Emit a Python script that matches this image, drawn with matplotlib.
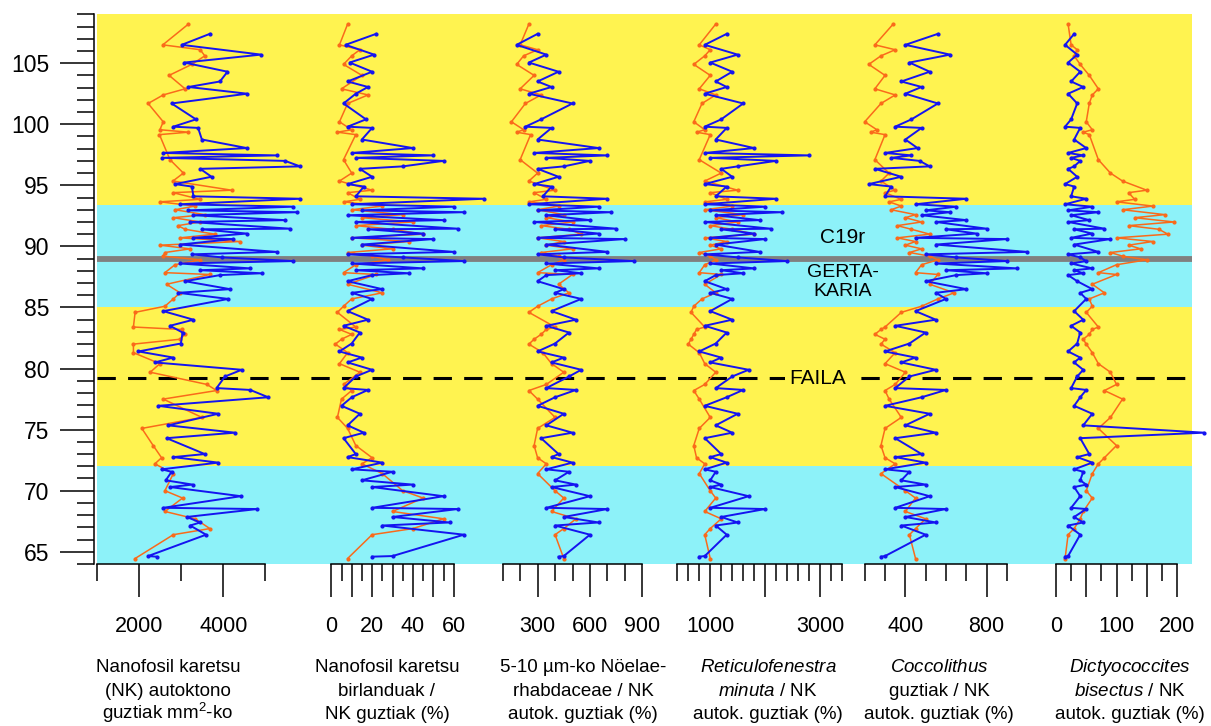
import numpy as np
import matplotlib.pyplot as plt

plt.rcParams['font.family'] = 'Liberation Sans'
plt.rcParams['mathtext.fontset'] = 'custom'
plt.rcParams['mathtext.rm'] = 'Liberation Sans'
plt.rcParams['mathtext.it'] = 'Liberation Sans:italic'

# sample depths (m), shared by every panel
depth_blue = [107.4, 106.5, 105.7, 105.05, 104.3, 103.5, 103.05, 102.5, 101.7, 100.4,
              99.8, 99.7, 98.75, 98.05, 97.65, 97.45, 97.25, 97.0, 96.55, 96.35,
              95.7, 95.1, 94.9, 94.1, 93.9, 93.45, 93.25, 92.95, 92.8, 92.55,
              92.15, 92.0, 91.45, 91.4, 91.05, 90.7, 90.6, 90.15, 89.55, 89.35,
              89.1, 88.8, 88.6, 88.2, 88.05, 87.8, 87.65, 87.15, 86.5, 86.2,
              85.7, 84.7, 84.0, 83.5, 82.95, 82.05, 81.4, 80.9, 80.5, 79.9,
              79.35, 78.4, 78.25, 77.65, 76.95, 76.3, 75.35, 74.75, 74.3, 73.0,
              72.75, 72.3, 71.75, 71.55, 70.85, 70.5, 70.3, 69.55, 68.6, 68.5,
              67.85, 67.4, 67.15, 66.4, 64.65, 64.6]
depth_orange = [108.2, 106.5, 106.1, 105.6, 104.9, 104.0, 102.9, 102.4, 101.7, 100.2,
                99.55, 99.35, 99.15, 97.1, 96.0, 95.35, 94.6, 94.4, 93.85, 93.65,
                93.3, 93.0, 92.6, 92.35, 92.0, 91.7, 91.4, 91.0, 90.7, 90.4,
                90.1, 89.8, 89.5, 89.2, 88.9, 88.5, 87.85, 87.7, 86.9, 86.2,
                85.7, 85.1, 84.6, 83.4, 83.2, 82.8, 82.4, 82.0, 81.3, 80.4,
                79.7, 78.7, 78.2, 77.5, 76.0, 75.1, 73.7, 72.7, 72.2, 71.4,
                70.0, 69.4, 68.3, 67.7, 66.9, 66.4, 64.45]

# 1: NK autoktono / mm2
nk_blue = [3680, 3010, 4900, 3070, 4100, 3920, 3170, 4570, 2770, 3350, 2810, 3400, 3490, 4560, 2560, 5270, 2550, 5470, 5830, 3450, 3720, 2850, 3250, 3290,
           5830, 2970, 5660, 3160, 5760, 3290, 5470, 3210, 5590, 3490, 4560, 3290, 4230, 2970, 5270, 3250, 3960,
           5670, 2970, 4640, 3450, 4910, 3920, 3090, 4160, 2930, 4120,
           2570, 3290, 2730, 3030, 2990, 1980, 2810, 2370, 4440, 4040, 3840, 4640, 5070, 2450, 3880, 2690, 4280, 2650, 3560, 2810, 3880, 2530, 2770, 2630, 3270, 2730,
           4420, 2570, 4810, 3130, 3450, 3210, 3590, 2210, 2410]
nk_orange = [3170, 2560, 3450, 3560, 3250, 2710, 3090, 2570, 2210, 2570, 2490, 3170, 2480, 2730, 3050, 2800, 4200, 2800, 3450, 2490,
             3330, 2850, 3560, 2810, 3450, 2920, 3090, 3800, 2970, 4400, 2490, 3210, 2610, 2570, 3450, 2850,
             2610, 3680, 2650, 2970, 2810, 2610, 1900, 1860, 3010, 3090, 2970, 1860, 1860, 2490, 2260, 3610, 3840, 2570, 3490, 2060,
             2330, 2530, 2370, 2810, 2610, 3030, 2610, 3330, 3680, 2810, 1900]

# 2: birlanduak / NK guztiak (%)
rew_blue = [22, 7, 21, 9, 20, 8, 18, 12, 6, 17, 8, 20, 15, 40, 10, 50, 12, 55, 35, 14, 20, 8, 16, 12,
            75, 10, 60, 15, 65, 8, 55, 12, 62, 18, 45, 10, 50, 15, 60, 8, 35,
            65, 10, 45, 12, 38, 20, 8, 25, 10, 20,
            8, 18, 6, 14, 10, 4, 15, 8, 20, 12, 6, 18, 10, 5, 14, 8, 16, 6, 12, 8, 25, 10, 30, 15, 40, 20,
            55, 20, 62, 30, 58, 25, 65, 30, 20]
rew_orange = [8, 4, 14, 10, 6, 15, 5, 18, 8, 4, 10, 3, 12, 6, 10, 4, 20, 8, 14, 6,
              25, 10, 35, 15, 40, 12, 30, 45, 10, 38, 15, 30, 8, 20, 28, 12,
              6, 22, 8, 25, 10, 6, 3, 12, 4, 10, 5, 2, 8, 4, 14, 6, 10, 5, 3, 8, 12, 20, 15, 25, 35, 45, 30, 55, 40, 20, 8]

# 3: 5-10 um Noelaerhabdaceae (%)
noe_blue = [300, 180, 350, 250, 420, 300, 380, 250, 500, 320, 230, 380, 300, 650, 280, 700, 350, 600, 450, 300, 420, 280, 380, 330,
            700, 250, 650, 300, 720, 350, 600, 280, 750, 400, 650, 300, 800, 350, 700, 300, 450,
            850, 350, 650, 400, 550, 350, 300, 450, 400, 550,
            380, 520, 350, 480, 400, 300, 450, 380, 550, 480, 350, 520, 400, 300, 450, 350, 500, 320, 420, 380, 500, 350, 480, 400, 520, 380,
            600, 350, 700, 450, 650, 400, 600, 450, 420]
noe_orange = [250, 200, 300, 220, 180, 280, 200, 320, 230, 150, 220, 180, 260, 200, 300, 250, 400, 280, 350, 250,
              420, 300, 450, 350, 500, 320, 480, 550, 300, 450, 350, 500, 320, 420, 450, 380,
              300, 500, 420, 480, 380, 300, 250, 400, 350, 320, 280, 250, 330, 380, 450, 350, 250, 300, 400, 300,
              280, 300, 350, 300, 400, 450, 380, 520, 450, 400, 450]

# 4: Reticulofenestra minuta (%)
ret_blue = [1300, 900, 1500, 1000, 1400, 1100, 1300, 900, 1600, 1200, 900, 1300, 1100, 1800, 900, 2800, 1000, 2200, 1500, 1200, 1400, 900, 1300, 1100,
            2200, 900, 2000, 1000, 2300, 1100, 1900, 900, 2100, 1200, 1800, 1000, 2000, 1100, 1900, 900, 1500,
            2400, 1000, 1800, 1200, 1600, 1100, 900, 1300, 1000, 1400,
            1000, 1400, 900, 1300, 1100, 800, 1200, 1000, 1700, 1400, 1100, 1600, 1300, 900, 1500, 1100, 1400, 900, 1200, 1000, 1300, 900, 1100, 1000, 1200, 1000,
            1700, 1000, 2000, 1200, 1500, 1100, 1300, 900, 800]
ret_orange = [1100, 800, 1000, 900, 700, 1000, 800, 1100, 850, 700, 900, 750, 1000, 800, 1200, 900, 1500, 1000, 1300, 900,
              1400, 900, 1600, 1100, 1500, 1000, 1400, 1800, 900, 1300, 1000, 1200, 800, 1000, 1100, 900,
              800, 1200, 900, 1100, 850, 700, 650, 900, 750, 700, 650, 600, 800, 900, 1100, 900, 700, 800, 1000, 800,
              700, 750, 900, 800, 1000, 1100, 900, 1200, 1000, 900, 1000]

# 5: Coccolithus (%)
coc_blue = [560, 400, 620, 420, 520, 380, 480, 400, 560, 430, 350, 480, 400, 460, 300, 430, 330, 470, 520, 250, 380, 220, 330, 300,
            700, 450, 650, 500, 620, 480, 700, 550, 800, 600, 750, 450, 900, 550, 1000, 500, 650,
            900, 550, 950, 600, 800, 650, 500, 700, 550, 600,
            450, 550, 350, 500, 420, 300, 450, 380, 550, 420, 350, 600, 480, 300, 520, 400, 550, 350, 480, 350, 500, 300, 420, 380, 500, 350,
            520, 350, 600, 400, 550, 380, 500, 300, 280]
coc_orange = [340, 250, 350, 280, 220, 300, 250, 350, 280, 200, 260, 230, 300, 250, 320, 280, 350, 300, 380, 320,
              380, 330, 450, 400, 480, 360, 430, 520, 360, 450, 400, 480, 420, 520, 560, 480,
              450, 560, 520, 640, 560, 480, 380, 300, 280, 250, 300, 280, 350, 300, 400, 350, 300, 320, 380, 300,
              280, 300, 350, 280, 400, 450, 400, 500, 450, 420, 450]

# 6: Dictyococcites bisectus (%)
dic_blue = [30, 15, 35, 20, 40, 25, 45, 20, 35, 25, 15, 40, 30, 50, 20, 45, 25, 40, 30, 20, 35, 15, 30, 25,
            50, 15, 60, 20, 70, 25, 55, 20, 80, 30, 60, 25, 90, 30, 70, 20, 40,
            50, 25, 60, 30, 45, 20, 35, 60, 40, 50,
            30, 45, 25, 40, 35, 20, 40, 30, 45, 35, 25, 50, 40, 30, 60, 45, 245, 40, 55, 35, 60, 30, 45, 40, 50, 30,
            40, 25, 50, 30, 45, 20, 40, 20, 15]
dic_orange = [20, 25, 35, 30, 40, 55, 70, 60, 55, 50, 60, 45, 55, 70, 90, 110, 150, 120, 130, 100,
              160, 110, 180, 130, 195, 120, 170, 185, 100, 160, 120, 140, 90, 110, 150, 100,
              70, 100, 60, 80, 55, 60, 50, 70, 60, 55, 45, 50, 60, 70, 90, 100, 80, 110, 90, 70,
              100, 80, 70, 60, 50, 60, 45, 40, 30, 20, 15]

titles = [["Nanofosil karetsu", "(NK) autoktono", "guztiak mm$^{2}$-ko"],
          ["Nanofosil karetsu", "birlanduak /", "NK guztiak (%)"],
          ["5-10 µm-ko Nöelae-", "rhabdaceae / NK", "autok. guztiak (%)"],
          ["$\\it{Reticulofenestra}$", "$\\it{minuta}$ / NK", "autok. guztiak (%)"],
          ["$\\it{Coccolithus}$", "guztiak / NK", "autok. guztiak (%)"],
          ["$\\it{Dictyococcites}$", "$\\it{bisectus}$ / NK", "autok. guztiak (%)"]]

bands = [(93.4, 109, 'yellow'), (85.0, 93.4, 'cyan'), (72.0, 85.0, 'yellow'), (64, 72.0, 'cyan')]
event_depth = 89.0
fault_depth = 79.2

YELLOW = '#FFF350'
CYAN = '#8DF2F9'
ORANGE = '#FA6A1A'
BLUE = '#1414F0'

W, H = 1211, 726
fig = plt.figure(figsize=(W / 100, H / 100), dpi=100)
y0 = (H - 564) / H
hh = (564 - 14.3) / H

bg = fig.add_axes([97 / W, y0, (1192 - 97) / W, hh])
bg.set_xlim(0, 1)
bg.set_ylim(64, 109)
for lo, hi, c in bands:
    bg.axhspan(lo, hi, color=YELLOW if c == 'yellow' else CYAN, lw=0)
bg.axhline(event_depth, color='#808080', lw=4.2)
bg.axhline(fault_depth, color='black', lw=2.2, ls=(0, (6, 4)))
bg.text(0.658, fault_depth, 'FAILA', ha='center', va='center', fontsize=15,
        bbox=dict(facecolor=YELLOW, edgecolor='none', pad=3), zorder=5)
bg.text(0.681, 90.75, 'C19r', ha='center', va='center', fontsize=15)
bg.text(0.681, 87.05, 'GERTA-\nKARIA', ha='center', va='center', fontsize=14, linespacing=1.15)
for s in ['top', 'right', 'bottom']:
    bg.spines[s].set_visible(False)
bg.spines['left'].set_position(('outward', 2))
bg.spines['left'].set_linewidth(1.1)
bg.set_xticks([])
bg.set_yticks(range(65, 106, 5))
bg.set_yticks(range(64, 110), minor=True)
bg.tick_params(axis='y', which='major', length=24.5, width=1.1, labelsize=16.5, pad=8)
bg.tick_params(axis='y', which='minor', length=12.2, width=1.1)

# pixel span of each x axis, axis limits, ticks
panels = [
    (97.3, 265.3, 1000, 5000, [2000, 4000], ['2000', '4000'], [1000, 3000, 5000], nk_orange, nk_blue, 168),
    (331.3, 453.7, 0, 60, list(range(0, 61, 10)), ['0', '', '20', '', '40', '', '60'], list(range(5, 60, 10)), rew_orange, rew_blue, 387),
    (502.7, 642.3, 100, 900, [300, 600, 900], ['300', '600', '900'], [100, 200, 400, 500, 700, 800], noe_orange, noe_blue, 583),
    (677.3, 842.0, 400, 3400, [1000, 2000, 3000], ['1000', '', '3000'], list(range(400, 3401, 200)), ret_orange, ret_blue, 768),
    (864.7, 1007.0, 200, 900, [400, 800], ['400', '800'], [200, 300, 500, 600, 700, 900], coc_orange, coc_blue, 939),
    (1056.0, 1177.0, 0, 200, [0, 50, 100, 150, 200], ['0', '', '100', '', '200'], [25, 75, 125, 175], dic_orange, dic_blue, 1130),
]

for i, (p0, p1, lo, hi, major, labels, minor, orange, blue, tx) in enumerate(panels):
    ax = fig.add_axes([p0 / W, y0, (p1 - p0) / W, hh])
    ax.patch.set_alpha(0)
    ax.plot(orange, depth_orange, color=ORANGE, lw=1.1, marker='o', ms=2, clip_on=False)
    ax.plot(blue, depth_blue, color=BLUE, lw=1.4, marker='o', ms=2, clip_on=False)
    ax.set_xlim(lo, hi)
    ax.set_ylim(64, 109)
    for s in ['top', 'right', 'left']:
        ax.spines[s].set_visible(False)
    ax.spines['bottom'].set_linewidth(1.1)
    ax.set_yticks([])
    ax.set_xticks(major, labels)
    ax.set_xticks(minor, minor=True)
    ax.tick_params(axis='x', which='major', length=23.8, width=1.1, labelsize=15.5, pad=14)
    ax.tick_params(axis='x', which='minor', length=12.2, width=1.1)
    for k, line in enumerate(titles[i]):
        fig.text(tx / W, 1 - (672 + 23.5 * k) / H, line, ha='center', va='baseline', fontsize=13.5)

fig.savefig('out.png', dpi=100)
